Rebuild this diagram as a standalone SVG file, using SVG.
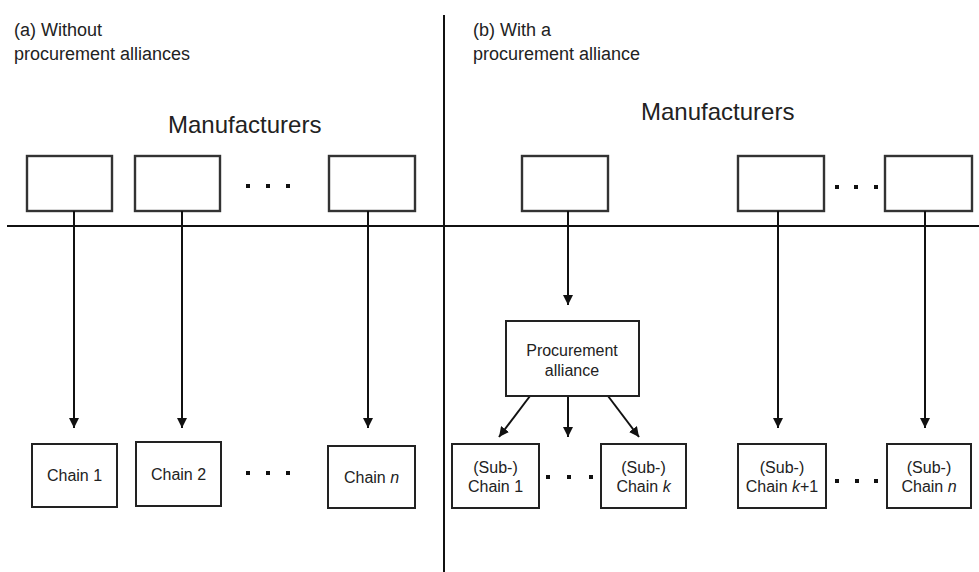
<svg xmlns="http://www.w3.org/2000/svg" width="979" height="572" viewBox="0 0 979 572">
<defs>
<style>
.box{fill:#fff;stroke:#222;stroke-width:2}
.mbox{fill:#fff;stroke:#333;stroke-width:2.4}
.ln{stroke:#111;stroke-width:2;fill:none}
.arr{stroke:#111;stroke-width:2;fill:none;marker-end:url(#ah)}
.t{font-family:"Liberation Sans",Arial,sans-serif;fill:#222}
.h{font-size:18px}
.m{font-size:24px}
.s{font-size:16px;text-anchor:middle}
.dot{fill:#111}
</style>
<marker id="ah" viewBox="0 0 10 10" refX="10" refY="5" markerWidth="5" markerHeight="5" orient="auto" markerUnits="strokeWidth">
<path d="M0,0 L10,5 L0,10 z" fill="#111"/>
</marker>
</defs>
<rect width="979" height="572" fill="#fff"/>
<g id="dividers">
<line class="ln" x1="444" y1="15" x2="444" y2="572"/>
<line class="ln" x1="7" y1="226" x2="979" y2="226"/>
</g>
<g id="titles">
<text class="t h" x="14" y="36">(a) Without</text>
<text class="t h" x="14" y="60">procurement alliances</text>
<text class="t h" x="473" y="36">(b) With a</text>
<text class="t h" x="473" y="60">procurement alliance</text>
<text class="t m" x="168" y="133">Manufacturers</text>
<text class="t m" x="641" y="120">Manufacturers</text>
</g>
<g id="manufacturers-a">
<rect class="mbox" x="27" y="156" width="85" height="55"/>
<rect class="mbox" x="135" y="156" width="85" height="55"/>
<rect class="mbox" x="329" y="156" width="86" height="55"/>
</g>
<g id="manufacturers-b">
<rect class="mbox" x="522" y="156" width="86" height="55"/>
<rect class="mbox" x="738" y="156" width="86" height="55"/>
<rect class="mbox" x="885" y="156" width="87" height="55"/>
</g>
<g id="dots">
<rect class="dot" x="246" y="184" width="4" height="4"/>
<rect class="dot" x="266" y="184" width="4" height="4"/>
<rect class="dot" x="286" y="184" width="4" height="4"/>
<rect class="dot" x="246" y="471" width="4" height="4"/>
<rect class="dot" x="266" y="471" width="4" height="4"/>
<rect class="dot" x="286" y="471" width="4" height="4"/>
<rect class="dot" x="835" y="185" width="4" height="4"/>
<rect class="dot" x="854" y="185" width="4" height="4"/>
<rect class="dot" x="874" y="185" width="4" height="4"/>
<rect class="dot" x="546" y="475" width="4" height="4"/>
<rect class="dot" x="567" y="475" width="4" height="4"/>
<rect class="dot" x="589" y="475" width="4" height="4"/>
<rect class="dot" x="835" y="479" width="4" height="4"/>
<rect class="dot" x="855" y="479" width="4" height="4"/>
<rect class="dot" x="874" y="479" width="4" height="4"/>
</g>
<g id="connectors">
<line class="arr" x1="74" y1="211" x2="74" y2="428"/>
<line class="arr" x1="182" y1="211" x2="182" y2="428"/>
<line class="arr" x1="368" y1="211" x2="368" y2="428"/>
<line class="arr" x1="568" y1="211" x2="568" y2="305"/>
<line class="arr" x1="778" y1="211" x2="778" y2="428"/>
<line class="arr" x1="925" y1="211" x2="925" y2="428"/>
<line class="arr" x1="530" y1="396" x2="499" y2="437"/>
<line class="arr" x1="568" y1="396" x2="568" y2="437"/>
<line class="arr" x1="608" y1="396" x2="639" y2="437"/>
</g>
<g id="chain-1">
<rect class="box" x="32" y="444" width="85" height="63"/>
<text class="t s" x="74.5" y="481">Chain 1</text>
</g>
<g id="chain-2">
<rect class="box" x="136" y="442" width="85" height="64"/>
<text class="t s" x="178.5" y="480">Chain 2</text>
</g>
<g id="chain-n">
<rect class="box" x="328" y="446" width="87" height="62"/>
<text class="t s" x="371.5" y="483">Chain <tspan font-style="italic">n</tspan></text>
</g>
<g id="procurement-alliance">
<rect class="box" x="506" y="321" width="133" height="75"/>
<text class="t s" x="572" y="356">Procurement</text>
<text class="t s" x="572" y="376">alliance</text>
</g>
<g id="sub-chain-1">
<rect class="box" x="452" y="444" width="87" height="64"/>
<text class="t s" x="495.5" y="473">(Sub-)</text>
<text class="t s" x="495.5" y="492">Chain 1</text>
</g>
<g id="sub-chain-k">
<rect class="box" x="601" y="444" width="85" height="64"/>
<text class="t s" x="643.5" y="473">(Sub-)</text>
<text class="t s" x="643.5" y="492">Chain <tspan font-style="italic">k</tspan></text>
</g>
<g id="sub-chain-k1">
<rect class="box" x="738" y="444" width="88" height="64"/>
<text class="t s" x="782" y="473">(Sub-)</text>
<text class="t s" x="782" y="492">Chain <tspan font-style="italic">k</tspan>+1</text>
</g>
<g id="sub-chain-n">
<rect class="box" x="887" y="444" width="84" height="64"/>
<text class="t s" x="929" y="473">(Sub-)</text>
<text class="t s" x="929" y="492">Chain <tspan font-style="italic">n</tspan></text>
</g>
</svg>
